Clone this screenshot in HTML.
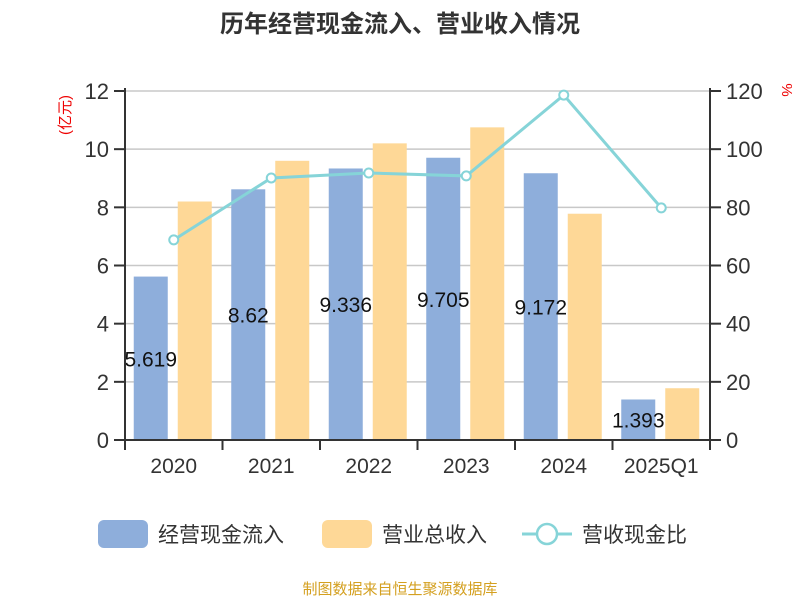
<!DOCTYPE html>
<html><head><meta charset="utf-8"><style>
body{margin:0;background:#fff;font-family:"Liberation Sans","Noto Sans CJK SC",sans-serif}
</style></head><body>
<svg id="c" width="800" height="600" xmlns="http://www.w3.org/2000/svg" font-family="Liberation Sans, Noto Sans CJK SC, sans-serif">
<text x="400" y="32" text-anchor="middle" font-size="24" font-weight="bold" fill="#333">历年经营现金流入、营业收入情况</text>
<text transform="translate(70,115) rotate(-90)" text-anchor="middle" font-size="15" fill="#e00">(亿元)</text>
<text transform="translate(782,90) rotate(90)" text-anchor="middle" font-size="15" fill="#e00">%</text>
<g id="grid"></g><g id="bars"></g><g id="line"></g><g id="axes"></g>
<g>
<rect x="98" y="520" width="50" height="28" rx="6" fill="#8eaedb"/>
<text x="158" y="542" font-size="21" fill="#333">经营现金流入</text>
<rect x="322" y="520" width="50" height="28" rx="6" fill="#fed897"/>
<text x="382" y="542" font-size="21" fill="#333">营业总收入</text>
<line x1="522" y1="534" x2="572" y2="534" stroke="#86d4d8" stroke-width="3"/>
<circle cx="547" cy="534" r="10" fill="#fff" stroke="#86d4d8" stroke-width="2.5"/>
<text x="582" y="542" font-size="21" fill="#333">营收现金比</text>
</g>
<text x="400" y="594" text-anchor="middle" font-size="15" fill="#d4a020">制图数据来自恒生聚源数据库</text>
</svg>
<script>
const categories=["2020","2021","2022","2023","2024","2025Q1"];
const cashInflow=[5.619,8.62,9.336,9.705,9.172,1.393];
const cashLabels=["5.619","8.62","9.336","9.705","9.172","1.393"];
const revenue=[8.2,9.6,10.2,10.75,7.78,1.78];
const ratio=[68.8,90.1,91.8,90.8,118.6,79.8];
const leftTicks=[0,2,4,6,8,10,12];
const rightTicks=[0,20,40,60,80,100,120];
const NS="http://www.w3.org/2000/svg";
const L=125,R=710,T=91,B=440;
const y=v=>B-(v/12)*(B-T);
const yr=v=>B-(v/120)*(B-T);
const bw=(R-L)/categories.length;
const cx=i=>L+bw*(i+0.5);
function mk(tag,attrs,parent,text){const e=document.createElementNS(NS,tag);for(const k in attrs)e.setAttribute(k,attrs[k]);if(text!==undefined)e.textContent=text;document.getElementById(parent).appendChild(e);return e;}
leftTicks.forEach((t,i)=>{
 if(t>0){const g=mk('line',{x1:L,x2:R,y1:y(t),y2:y(t),stroke:'#c8c8c8','stroke-width':1.5},'grid');
 
 }
 const tk=mk('line',{x1:L-11,x2:L,y1:y(t),y2:y(t),stroke:'#333','stroke-width':2},'axes');
 
 
 const lb=mk('text',{x:L-16,y:y(t)+8,'text-anchor':'end','font-size':22,fill:'#333'},'axes',String(t));
 
 
});
rightTicks.forEach(t=>{
 const tk=mk('line',{x1:R,x2:R+11,y1:yr(t),y2:yr(t),stroke:'#333','stroke-width':2},'axes');
 
 
 const lb=mk('text',{x:R+16,y:yr(t)+8,'font-size':22,fill:'#333'},'axes',String(t));
 
 
});
categories.forEach((c,i)=>{
 const b1=mk('rect',{x:cx(i)-40,y:y(cashInflow[i]),width:34,height:B-y(cashInflow[i]),fill:'#8eaedb'},'bars');
 
 
 const b2=mk('rect',{x:cx(i)+4,y:y(revenue[i]),width:34,height:B-y(revenue[i]),fill:'#fed897'},'bars');
 
 
 const vl=mk('text',{x:cx(i)-23,y:(y(cashInflow[i])+B)/2+8,'text-anchor':'middle','font-size':21,fill:'#111'},'bars',cashLabels[i]);
 
 
 const tk=mk('line',{x1:L+bw*i,x2:L+bw*i,y1:B,y2:B+10,stroke:'#333','stroke-width':2},'axes');
 
 
 const xl=mk('text',{x:cx(i),y:B+33,'text-anchor':'middle','font-size':21,fill:'#333'},'axes',c);
 
 
});
const lt=mk('line',{x1:R,x2:R,y1:B,y2:B+10,stroke:'#333','stroke-width':2},'axes');


const ax=mk('line',{x1:L,x2:R,y1:B,y2:B,stroke:'#333','stroke-width':2},'axes');


const la=mk('line',{x1:L,x2:L,y1:T-3,y2:B,stroke:'#333','stroke-width':2},'axes');


const ra=mk('line',{x1:R,x2:R,y1:T-3,y2:B,stroke:'#333','stroke-width':2},'axes');


const pl=mk('polyline',{points:ratio.map((v,i)=>cx(i)+','+yr(v)).join(' '),fill:'none',stroke:'#86d4d8','stroke-width':3},'line');


ratio.forEach((v,i)=>{
 const p=mk('circle',{cx:cx(i),cy:yr(v),r:4.5,fill:'#fff',stroke:'#86d4d8','stroke-width':2},'line');
 
 
});
</script>
</body></html>
